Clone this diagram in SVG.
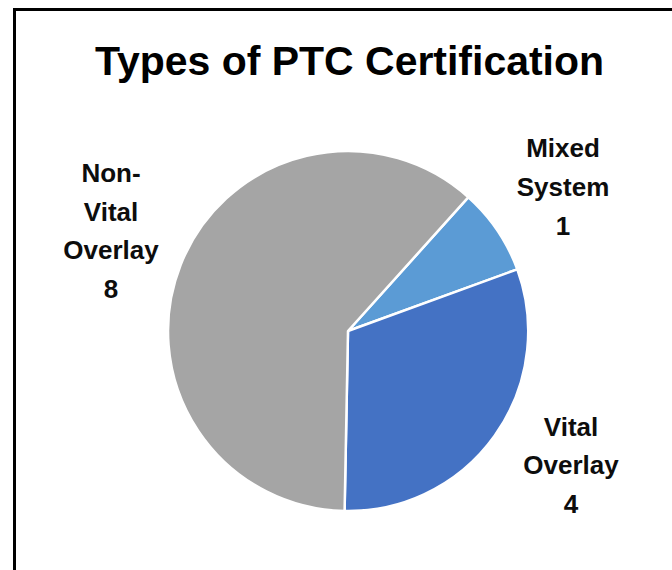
<svg xmlns="http://www.w3.org/2000/svg" width="672" height="570" viewBox="0 0 672 570">
<style>
.lbl{font-family:"Liberation Sans",Arial,sans-serif;font-weight:bold;font-size:26px;fill:#0d0d0d;text-anchor:middle}
.title{font-family:"Liberation Sans",Arial,sans-serif;font-weight:bold;font-size:40px;fill:#000;text-anchor:middle}
.slice{stroke:#fff;stroke-width:2.5;stroke-linejoin:round}
</style>
<rect x="0" y="0" width="672" height="570" fill="#fff"/>
<rect x="14.5" y="9.5" width="700" height="600" fill="#fff" stroke="#000" stroke-width="3"/>
<text class="title" x="349.5" y="75" textLength="509" lengthAdjust="spacingAndGlyphs">Types of PTC Certification</text>
<g id="pie">
<g id="mixed-system"><path class="slice" fill="#5B9BD5" d="M348,331 L468.4,197.2 A180,180 0 0 1 517.3,269.3 Z"/></g>
<g id="vital-overlay"><path class="slice" fill="#4472C4" d="M348,331 L517.3,269.3 A180,180 0 0 1 344.6,511 Z"/></g>
<g id="non-vital-overlay"><path class="slice" fill="#A5A5A5" d="M348,331 L344.6,511 A180,180 0 1 1 468.4,197.2 Z"/></g>
</g>
<g id="labels">
<g id="label-nonvital">
<text class="lbl" x="111" y="182">Non-</text>
<text class="lbl" x="111" y="221">Vital</text>
<text class="lbl" x="111" y="259">Overlay</text>
<text class="lbl" x="111" y="298">8</text>
</g>
<g id="label-mixed">
<text class="lbl" x="563" y="157">Mixed</text>
<text class="lbl" x="563" y="196">System</text>
<text class="lbl" x="563" y="235">1</text>
</g>
<g id="label-vital">
<text class="lbl" x="571" y="436">Vital</text>
<text class="lbl" x="571" y="474">Overlay</text>
<text class="lbl" x="571" y="513">4</text>
</g>
</g>
</svg>
